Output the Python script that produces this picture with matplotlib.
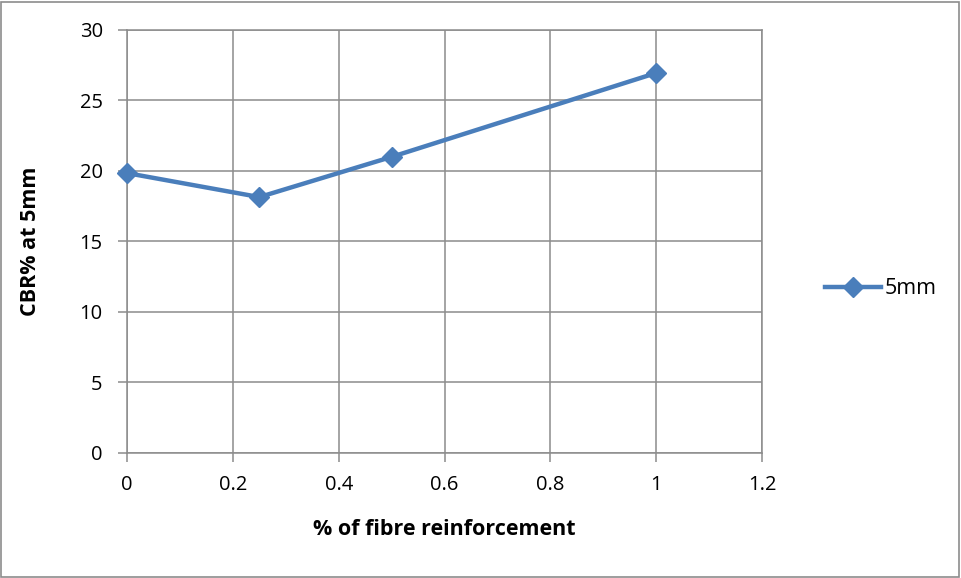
import matplotlib.pyplot as plt
from matplotlib.patches import Rectangle

fibre = [0, 0.25, 0.5, 1]
cbr = [19.85, 18.15, 21.0, 26.95]
series_name = '5mm'

plt.rcParams['font.family'] = ['Open Sans', 'DejaVu Sans']

fig = plt.figure(figsize=(9.61, 5.78), dpi=100)
ax = fig.add_axes([0.1322, 0.2163, 0.6607, 0.7318])

ax.plot(fibre, cbr, color='#4A7EBB', lw=3.2, marker='D', markersize=10,
        label=series_name, clip_on=False, zorder=3)

ax.set_xlim(0, 1.2)
ax.set_ylim(0, 30)
ax.set_xticks([0, 0.2, 0.4, 0.6, 0.8, 1, 1.2])
ax.set_xticklabels(['0', '0.2', '0.4', '0.6', '0.8', '1', '1.2'])
ax.set_yticks(range(0, 31, 5))

ax.grid(True, color='#8c8c8c', lw=1.1)
ax.set_axisbelow(True)
for s in ax.spines.values():
    s.set_color('#8c8c8c')
    s.set_linewidth(1.1)

ax.tick_params(axis='both', direction='out', length=6.5, width=1.1,
               color='#8c8c8c', labelsize=14.5)
ax.tick_params(axis='y', pad=11)
ax.tick_params(axis='x', pad=9)

ax.set_xlabel('% of fibre reinforcement', fontsize=15.5, fontweight='bold')
ax.set_ylabel('CBR% at 5mm', fontsize=15.5, fontweight='bold')
ax.xaxis.set_label_coords(0.5, -0.155)
ax.yaxis.set_label_coords(-0.135, 0.5)

ax.legend(loc='center left', bbox_to_anchor=(1.085, 0.388), frameon=False,
          fontsize=15.5, handlelength=2.6, handletextpad=0.2, borderaxespad=0)

# thin frame around the whole chart
fig.patches.append(Rectangle((0.001, 0.002), 0.997, 0.995, transform=fig.transFigure,
                             fill=False, edgecolor='#8c8c8c', lw=1.2))

fig.savefig('out.png', dpi=100)
